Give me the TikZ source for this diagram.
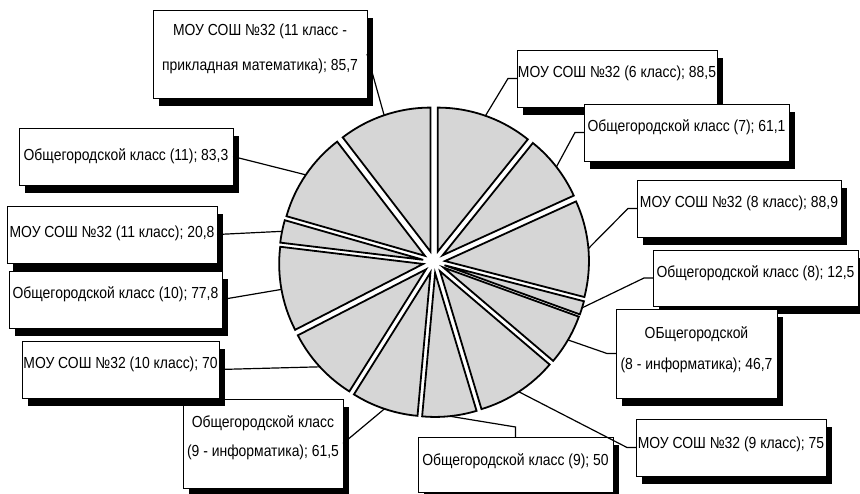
\documentclass[tikz,border=0pt]{standalone}
\usepackage{fontspec}
\setmainfont[FakeStretch=0.87]{Liberation Sans}
\usetikzlibrary{calc}
\newcommand\pieslice[3]{%
  \draw[slicestyle] ($(c)+({(#2+#3)/2}:11)$) -- ++(#2:144)
    arc[start angle=#2, end angle=#3, radius=144] -- cycle;
  \coordinate (#1) at ($(c)+({(#2+#3)/2}:155)$);}
\newcommand\lblbox[5]{%
  \fill[boxshadow] ({#2+6},{#3+8}) rectangle ({#2+6+#4},{#3+8+#5});
  \node[box, minimum width=#4pt, minimum height=#5pt] (#1) at (#2,#3) {};}
\begin{document}
\begin{tikzpicture}[x=1pt,y=-1pt,
  slicestyle/.style={draw=black, line width=1.8pt, fill=black!16, line join=miter},
  boxshadow/.style={fill=black},
  box/.style={draw=black, line width=0.8pt, fill=white, inner sep=0pt, outer sep=0pt, anchor=north west},
  lbl/.style={font=\fontsize{16}{19}\selectfont, inner sep=0pt, anchor=base},
  lead/.style={draw=black, line width=1.2pt}]
\useasboundingbox (0,0) rectangle (860,494);
\coordinate (c) at (434,262);
% slices, clockwise from 12 o'clock
\pieslice{p1}{-90}{-51.231}
\pieslice{p2}{-51.231}{-24.465}
\pieslice{p3}{-24.465}{14.479}
\pieslice{p4}{14.479}{19.955}
\pieslice{p5}{19.955}{40.413}
\pieslice{p6}{40.413}{73.268}
\pieslice{p7}{73.268}{95.171}
\pieslice{p8}{95.171}{122.112}
\pieslice{p9}{122.112}{152.776}
\pieslice{p10}{152.776}{186.857}
\pieslice{p11}{186.857}{195.969}
\pieslice{p12}{195.969}{232.459}
\pieslice{p13}{232.459}{270}
% label boxes
\lblbox{b1}{517}{50}{200}{57}
\lblbox{b2}{584}{104}{205}{57}
\lblbox{b3}{637}{180}{204}{57}
\lblbox{b4}{653}{250}{205}{56}
\lblbox{b5}{616}{309}{161}{89}
\lblbox{b6}{636}{419}{190}{57}
\lblbox{b7}{418}{437}{195}{55}
\lblbox{b8}{183}{399}{160}{89}
\lblbox{b9}{22}{341}{197}{57}
\lblbox{b10}{9}{271}{213}{57}
\lblbox{b11}{7}{206}{210}{57}
\lblbox{b12}{19}{128}{214}{57}
\lblbox{b13}{153}{10}{214}{88}
% leader lines
\draw[lead] (b1.west) -- ++(-9,0) -- (p1);
\draw[lead] (b2.west) -- ++(-9,0) -- (p2);
\draw[lead] (b3.west) -- ++(-9,0) -- (p3);
\draw[lead] (b4.west) -- ++(-9,0) -- (p4);
\draw[lead] (b5.west) -- ++(-9,0) -- (p5);
\draw[lead] (b6.west) -- ++(-9,0) -- (p6);
\draw[lead] (b7.north) -- ++(0,-10) -- (p7);
\draw[lead] (b8.east) -- (p8);
\draw[lead] (b9.east) -- (p9);
\draw[lead] (b10.east) -- (p10);
\draw[lead] (b11.east) -- (p11);
\draw[lead] (b12.east) -- (p12);
\draw[lead] (b13.east) -- (p13);
% texts
\node[lbl] (t1) at (617,78) {МОУ СОШ №32 (6 класс); 88,5};
\node[lbl] (t2) at (686.5,132) {Общегородской класс (7); 61,1};
\node[lbl] (t3) at (739,208) {МОУ СОШ №32 (8 класс); 88,9};
\node[lbl] (t4) at (755.5,278) {Общегородской класс (8); 12,5};
\node[lbl] (t5a) at (696.5,339) {ОБщегородской};
\node[lbl] (t5b) at (696.5,370) {(8 - информатика); 46,7};
\node[lbl] (t6) at (731,448) {МОУ СОШ №32 (9 класс); 75};
\node[lbl] (t7) at (515.5,465) {Общегородской класс (9); 50};
\node[lbl] (t8a) at (263,428) {Общегородской класс};
\node[lbl] (t8b) at (263,456) {(9 - информатика); 61,5};
\node[lbl] (t9) at (120.5,369) {МОУ СОШ №32 (10 класс); 70};
\node[lbl] (t10) at (115.5,299) {Общегородской класс (10); 77,8};
\node[lbl] (t11) at (112,238) {МОУ СОШ №32 (11 класс); 20,8};
\node[lbl] (t12) at (126,161) {Общегородской класс (11); 83,3};
\node[lbl] (t13a) at (260,36) {МОУ СОШ №32 (11 класс -};
\node[lbl] (t13b) at (260,71) {прикладная математика); 85,7};
\end{tikzpicture}
\end{document}
